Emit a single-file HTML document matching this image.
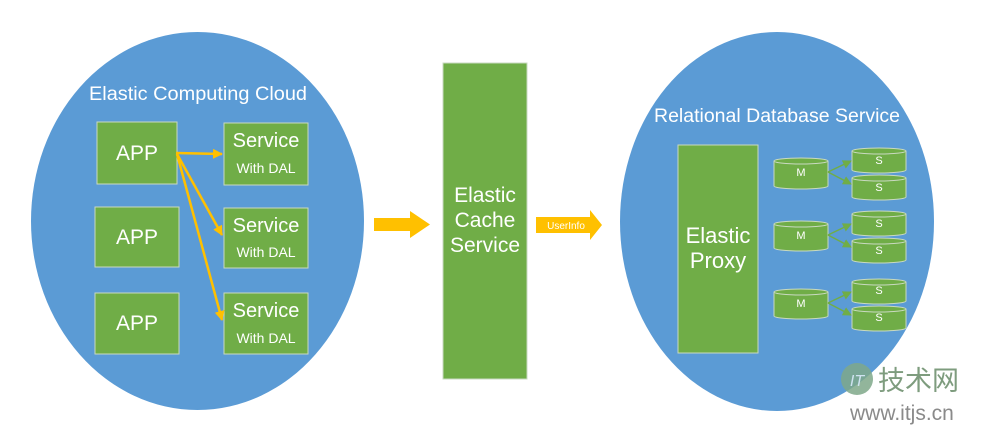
<!DOCTYPE html>
<html><head><meta charset="utf-8"><style>
html,body{margin:0;padding:0;background:#fff;}
svg{display:block;}
text{font-family:"Liberation Sans","DejaVu Sans",sans-serif;fill:#fff;}
</style></head><body>
<svg width="983" height="433" viewBox="0 0 983 433" xmlns="http://www.w3.org/2000/svg">
<defs>
<marker id="ay" markerWidth="10" markerHeight="10" refX="9" refY="5" orient="auto" markerUnits="userSpaceOnUse"><path d="M0,0 L10,5 L0,10 z" fill="#FFC000"/></marker>
<marker id="ag" markerWidth="9" markerHeight="9" refX="8" refY="4.5" orient="auto" markerUnits="userSpaceOnUse"><path d="M0,0 L9,4.5 L0,9 z" fill="#70AD47"/></marker>
</defs>
<ellipse cx="197.5" cy="221" rx="166.5" ry="189" fill="#5B9BD5"/>
<ellipse cx="777" cy="221.5" rx="157" ry="189.5" fill="#5B9BD5"/>

<text x="198" y="100" font-size="19" text-anchor="middle" textLength="218" lengthAdjust="spacingAndGlyphs">Elastic Computing Cloud</text>
<g fill="#70AD47" stroke="#C9D9C0" stroke-width="1">
<rect x="97" y="122" width="80" height="62"/>
<rect x="95" y="207" width="84" height="60"/>
<rect x="95" y="293" width="84" height="61"/>
<rect x="224" y="123" width="84" height="62"/>
<rect x="224" y="208" width="84" height="60"/>
<rect x="224" y="293" width="84" height="61"/>
<rect x="443" y="63" width="84" height="316"/>
<rect x="678" y="145" width="80" height="208"/>
</g>
<g font-size="21" text-anchor="middle">
<text x="137" y="160">APP</text>
<text x="137" y="244">APP</text>
<text x="137" y="330">APP</text>
</g>
<g text-anchor="middle">
<text x="266" y="147" font-size="20">Service</text><text x="266" y="173" font-size="14">With DAL</text>
<text x="266" y="232" font-size="20">Service</text><text x="266" y="257" font-size="14">With DAL</text>
<text x="266" y="317" font-size="20">Service</text><text x="266" y="343" font-size="14">With DAL</text>
</g>
<g stroke="#FFC000" stroke-width="2.5" fill="none">
<line x1="176" y1="153" x2="222" y2="154" marker-end="url(#ay)"/>
<line x1="177" y1="154" x2="222" y2="235" marker-end="url(#ay)"/>
<line x1="177" y1="154" x2="222" y2="320" marker-end="url(#ay)"/>
</g>
<path d="M374,218 H410 V211 L430,224.5 L410,238 V231 H374 z" fill="#FFC000"/>
<g font-size="21" text-anchor="middle">
<text x="485" y="202">Elastic</text>
<text x="485" y="227">Cache</text>
<text x="485" y="252">Service</text>
</g>
<path d="M536,217 H590 V210 L602,225 L590,240 V233 H536 z" fill="#FFC000"/>
<text x="566" y="229" font-size="10" text-anchor="middle">UserInfo</text>

<text x="777" y="122" font-size="19" text-anchor="middle" textLength="246" lengthAdjust="spacingAndGlyphs">Relational Database Service</text>
<g font-size="22" text-anchor="middle">
<text x="718" y="243">Elastic</text>
<text x="718" y="268">Proxy</text>
</g>
<g fill="#70AD47" stroke="#C9D9C0" stroke-width="1">
<path d="M774,161 V186 A27,3 0 0 0 828,186 V161 A27,3 0 0 0 774,161 A27,3 0 0 0 828,161"/>
<path d="M774,224 V248 A27,3 0 0 0 828,248 V224 A27,3 0 0 0 774,224 A27,3 0 0 0 828,224"/>
<path d="M774,292 V316 A27,3 0 0 0 828,316 V292 A27,3 0 0 0 774,292 A27,3 0 0 0 828,292"/>
<path d="M852,151 V170 A27,3 0 0 0 906,170 V151 A27,3 0 0 0 852,151 A27,3 0 0 0 906,151"/>
<path d="M852,178 V197 A27,3 0 0 0 906,197 V178 A27,3 0 0 0 852,178 A27,3 0 0 0 906,178"/>
<path d="M852,214 V233 A27,3 0 0 0 906,233 V214 A27,3 0 0 0 852,214 A27,3 0 0 0 906,214"/>
<path d="M852,241 V260 A27,3 0 0 0 906,260 V241 A27,3 0 0 0 852,241 A27,3 0 0 0 906,241"/>
<path d="M852,282 V301 A27,3 0 0 0 906,301 V282 A27,3 0 0 0 852,282 A27,3 0 0 0 906,282"/>
<path d="M852,309 V328 A27,3 0 0 0 906,328 V309 A27,3 0 0 0 852,309 A27,3 0 0 0 906,309"/>
</g>
<g font-size="11" text-anchor="middle">
<text x="801" y="176">M</text><text x="801" y="239">M</text><text x="801" y="307">M</text>
<text x="879" y="164">S</text><text x="879" y="191">S</text>
<text x="879" y="227">S</text><text x="879" y="254">S</text>
<text x="879" y="294">S</text><text x="879" y="321">S</text>
</g>
<g stroke="#70AD47" stroke-width="1.5" fill="none">
<line x1="828" y1="172" x2="851" y2="161" marker-end="url(#ag)"/>
<line x1="828" y1="172" x2="851" y2="184" marker-end="url(#ag)"/>
<line x1="828" y1="235" x2="851" y2="224" marker-end="url(#ag)"/>
<line x1="828" y1="235" x2="851" y2="247" marker-end="url(#ag)"/>
<line x1="828" y1="303" x2="851" y2="292" marker-end="url(#ag)"/>
<line x1="828" y1="303" x2="851" y2="315" marker-end="url(#ag)"/>
</g>

<circle cx="857" cy="379" r="16" fill="#7FA88A" opacity="0.85"/>
<text x="857" y="386" font-size="16" font-style="italic" text-anchor="middle" style="fill:#cfe3f0">IT</text>
<text x="878" y="390" font-size="27" style="fill:#7E9C7E;font-family:'Liberation Sans','Noto Sans CJK SC',sans-serif">技术网</text>
<text x="850" y="420" font-size="21" style="fill:#8A8A8A">www.itjs.cn</text>
</svg>
</body></html>
